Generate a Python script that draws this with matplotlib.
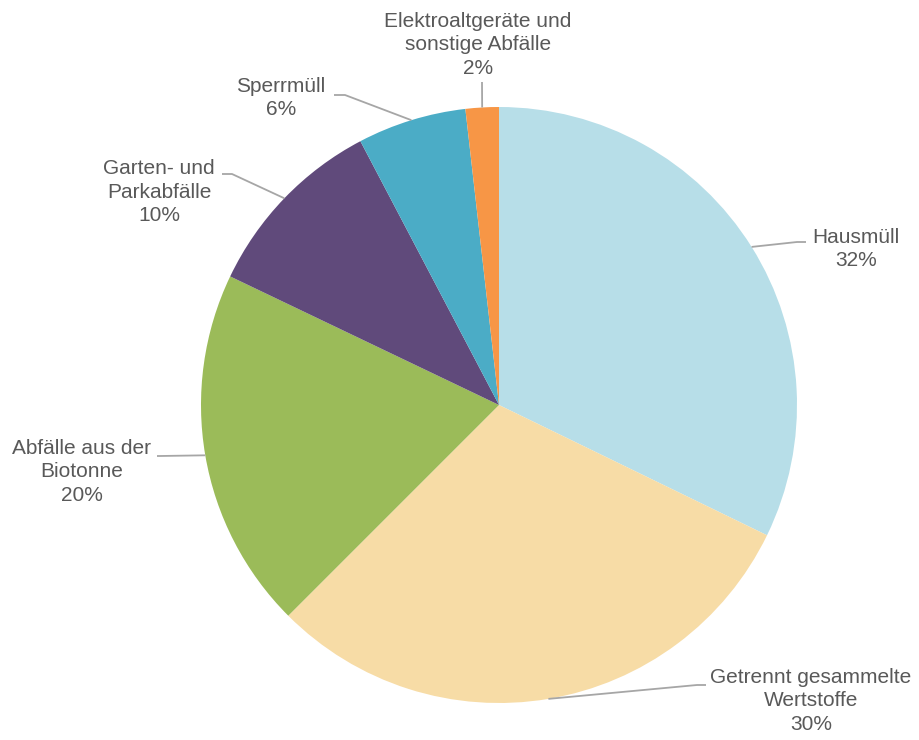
import matplotlib
matplotlib.use("Agg")
import matplotlib.pyplot as plt
import numpy as np

categories = ["Hausmüll", "Getrennt gesammelte\nWertstoffe", "Abfälle aus der\nBiotonne",
              "Garten- und\nParkabfälle", "Sperrmüll", "Elektroaltgeräte und\nsonstige Abfälle"]
values = [32.2, 30.3, 19.6, 10.2, 5.9, 1.8]
colors = ["#B7DEE8", "#F7DCA6", "#9BBB59", "#604A7B", "#4BACC6", "#F79646"]

W, H = 920, 740
fig = plt.figure(figsize=(9.2, 7.4), dpi=100)
ax = fig.add_axes([0, 0, 1, 1])

cx, cy, r = 499, H - 405, 298
wedges, _ = ax.pie(values, colors=colors, startangle=90, counterclock=False,
                   center=(cx, cy), radius=r, wedgeprops=dict(linewidth=0), frame=True)
ax.set_xlim(0, W)
ax.set_ylim(0, H)
ax.set_aspect("equal")
ax.axis("off")

# label placement (pixel coords, y from top): text center, elbow, line end near text
layout = [
    dict(tx=856, ty=249, elbow=(797, 242), end=(806, 242)),
    dict(tx=811, ty=701, elbow=(697, 685), end=(706, 685)),
    dict(tx=82, ty=472, elbow=(160, 456), end=(157, 456)),
    dict(tx=159, ty=192, elbow=(232, 174), end=(222, 174)),
    dict(tx=281, ty=98, elbow=(345, 95), end=(334, 95)),
    dict(tx=478, ty=45, elbow=(482, 82), end=(482, 82)),
]

total = sum(values)
cum = 0
for v, cat, lay in zip(values, categories, layout):
    mid = 90 - (cum + v / 2) / total * 360
    cum += v
    ex = cx + r * np.cos(np.radians(mid))
    ey = cy + r * np.sin(np.radians(mid))
    xs = [ex, lay["elbow"][0], lay["end"][0]]
    ys = [ey, H - lay["elbow"][1], H - lay["end"][1]]
    ax.plot(xs, ys, color="#A6A6A6", lw=1.3, solid_capstyle="butt")
    ax.text(lay["tx"], H - lay["ty"], f"{cat}\n{v:.0f}%", ha="center", va="center",
            fontsize=15, color="#595959", family="Liberation Sans", linespacing=1.3)

fig.savefig("out.png", dpi=100, facecolor="white")
